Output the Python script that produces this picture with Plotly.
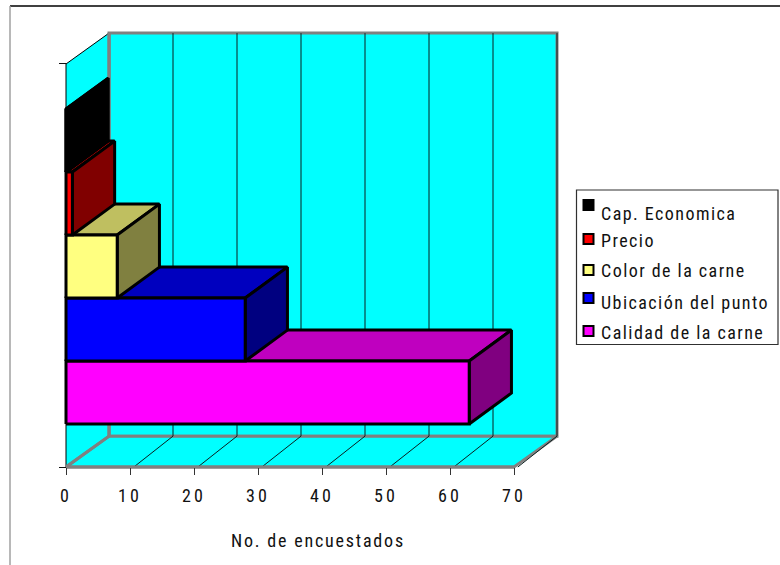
import plotly.graph_objects as go

# Survey results: respondents per purchase factor, bottom bar first
factors = ["Calidad de la carne", "Ubicación del punto", "Color de la carne", "Precio", "Cap. Economica"]
respondents = [63, 28, 8, 1, 0]
front_colors = ["#FF00FF", "#0000FF", "#FFFF80", "#FF0000", "#000000"]
top_colors = ["#BF00BF", "#0000BF", "#BFBF60", "#BF0000", "#000000"]
side_colors = ["#800080", "#000080", "#808040", "#800000", "#000000"]

x_ticks = [0, 10, 20, 30, 40, 50, 60, 70]
x_title = "No. de encuestados"

# Oblique projection of the box and its extent, in axis units
DEPTH_X = 6.72
DEPTH_Y = 0.49
X_MAX = 70
Y_FLOOR = -0.683
Y_TOP = 5.714
BAR_DEPTH_X = 6.6

FONT = "Roboto Condensed, Liberation Sans, sans-serif"
WALL_EDGE = "#808080"
CYAN = "#00FFFF"


def spaced(text, px=1.45):
    return f'<span style="letter-spacing:{px}px">{text}</span>'


def poly(xs, ys, fill, line="#000000", width=3):
    return go.Scatter(x=xs + xs[:1], y=ys + ys[:1], mode="lines", fill="toself",
                      fillcolor=fill, line=dict(color=line, width=width),
                      hoverinfo="skip", showlegend=False)


fig = go.Figure()

# Back wall, left wall and floor of the box
fig.add_trace(poly([DEPTH_X, X_MAX + DEPTH_X, X_MAX + DEPTH_X, DEPTH_X],
                   [Y_FLOOR + DEPTH_Y, Y_FLOOR + DEPTH_Y, Y_TOP + DEPTH_Y, Y_TOP + DEPTH_Y],
                   CYAN, WALL_EDGE, 3))
fig.add_trace(poly([0, DEPTH_X, DEPTH_X, 0],
                   [Y_FLOOR, Y_FLOOR + DEPTH_Y, Y_TOP + DEPTH_Y, Y_TOP],
                   CYAN, "#000000", 1))
fig.add_trace(poly([0, X_MAX, X_MAX + DEPTH_X, DEPTH_X],
                   [Y_FLOOR, Y_FLOOR, Y_FLOOR + DEPTH_Y, Y_FLOOR + DEPTH_Y],
                   CYAN, WALL_EDGE, 3))
# Gray corner lines of the wall, over the thin left-wall outline
fig.add_trace(go.Scatter(x=[0, DEPTH_X, DEPTH_X, None, DEPTH_X, DEPTH_X],
                         y=[Y_FLOOR, Y_FLOOR + DEPTH_Y, Y_TOP + DEPTH_Y, None, Y_FLOOR + DEPTH_Y, Y_TOP + DEPTH_Y],
                         mode="lines", line=dict(color=WALL_EDGE, width=3),
                         hoverinfo="skip", showlegend=False))

# Vertical gridlines on the back wall, continued across the floor
grid_x, grid_y = [], []
for t in x_ticks[1:]:
    grid_x += [t + DEPTH_X, t + DEPTH_X, None, t + 0.6, t + DEPTH_X, None]
    grid_y += [Y_TOP + DEPTH_Y, Y_FLOOR + DEPTH_Y, None, Y_FLOOR, Y_FLOOR + DEPTH_Y, None]
fig.add_trace(go.Scatter(x=grid_x, y=grid_y, mode="lines",
                         line=dict(color="#0A2020", width=1),
                         hoverinfo="skip", showlegend=False))

# Stacked-in-depth bars, painted from the bottom slot upward
for slot, value in enumerate(respondents):
    y0, y1 = slot, slot + 1
    dx, dy = BAR_DEPTH_X, DEPTH_Y
    fig.add_trace(poly([0, value, value + dx, dx],
                       [y1, y1, y1 + dy, y1 + dy], top_colors[slot]))
    fig.add_trace(poly([value, value + dx, value + dx, value],
                       [y0, y0 + dy, y1 + dy, y1], side_colors[slot]))
    fig.add_trace(poly([0, value, value, 0],
                       [y0, y0, y1, y1], front_colors[slot]))

# Front edge of the floor
fig.add_trace(go.Scatter(x=[0, X_MAX], y=[Y_FLOOR, Y_FLOOR], mode="lines",
                         line=dict(color=WALL_EDGE, width=3),
                         hoverinfo="skip", showlegend=False))

W, H = 780, 565


def px_x(p):
    return p / W


def px_y(p):
    return 1 - p / H


shapes = [
    dict(type="line", xref="paper", yref="paper", x0=px_x(10), x1=1, y0=px_y(6), y1=px_y(6),
         line=dict(color="#000000", width=1.5)),
    dict(type="line", xref="paper", yref="paper", x0=px_x(10), x1=px_x(10), y0=px_y(6), y1=0,
         line=dict(color="#A0A0A0", width=1.5)),
    dict(type="rect", xref="paper", yref="paper", x0=px_x(576.5), x1=px_x(778), y0=px_y(190), y1=px_y(344.5),
         fillcolor="#FFFFFF", line=dict(color="#303030", width=1.2)),
]

# Legend column, listed in reverse slot order
legend_rows_px = [213, 240, 270, 302, 332]
swatch_rows_px = [205, 239, 270, 298, 331]
annotations = [
    dict(text=spaced(x_title, 1.8), xref="paper", yref="paper", x=px_x(318), y=px_y(540),
         xanchor="center", yanchor="middle", showarrow=False,
         font=dict(family=FONT, size=18, color="#111111")),
]
for i, slot in enumerate(reversed(range(len(factors)))):
    annotations.append(dict(text=spaced(factors[slot]), xref="paper", yref="paper",
                            x=px_x(598.5), y=px_y(legend_rows_px[i]), xanchor="left", yanchor="middle",
                            align="left", showarrow=False,
                            font=dict(family=FONT, size=18, color="#111111")))
    shapes.append(dict(type="rect", xref="paper", yref="paper",
                       x0=px_x(583.5), x1=px_x(593.5),
                       y0=px_y(swatch_rows_px[i] - 5), y1=px_y(swatch_rows_px[i] + 5),
                       fillcolor=front_colors[slot], line=dict(color="#000000", width=2)))

fig.update_layout(
    width=W, height=H, margin=dict(l=0, r=0, t=0, b=0),
    paper_bgcolor="#FFFFFF", plot_bgcolor="#FFFFFF", showlegend=False,
    shapes=shapes, annotations=annotations,
    xaxis=dict(range=[-66 / 6.4, (W - 66) / 6.4], domain=[0, 1], anchor="free", position=1 - 467 / H,
               showgrid=False, zeroline=False, showline=False,
               tickmode="array", tickvals=x_ticks,
               ticktext=[spaced(str(t), 3) for t in x_ticks],
               ticks="outside", ticklen=7, tickwidth=1, tickcolor="#333333",
               ticklabelstandoff=5,
               tickfont=dict(family=FONT, size=18, color="#111111")),
    yaxis=dict(range=[(467 - H) / 63 + Y_FLOOR, 467 / 63 + Y_FLOOR], domain=[0, 1], anchor="free", position=66 / W,
               showgrid=False, zeroline=False, showline=False,
               tickmode="array", tickvals=[Y_FLOOR, Y_TOP], ticktext=["", ""],
               ticks="outside", ticklen=7, tickwidth=1, tickcolor="#111111"),
)

fig.write_html("out.html")
